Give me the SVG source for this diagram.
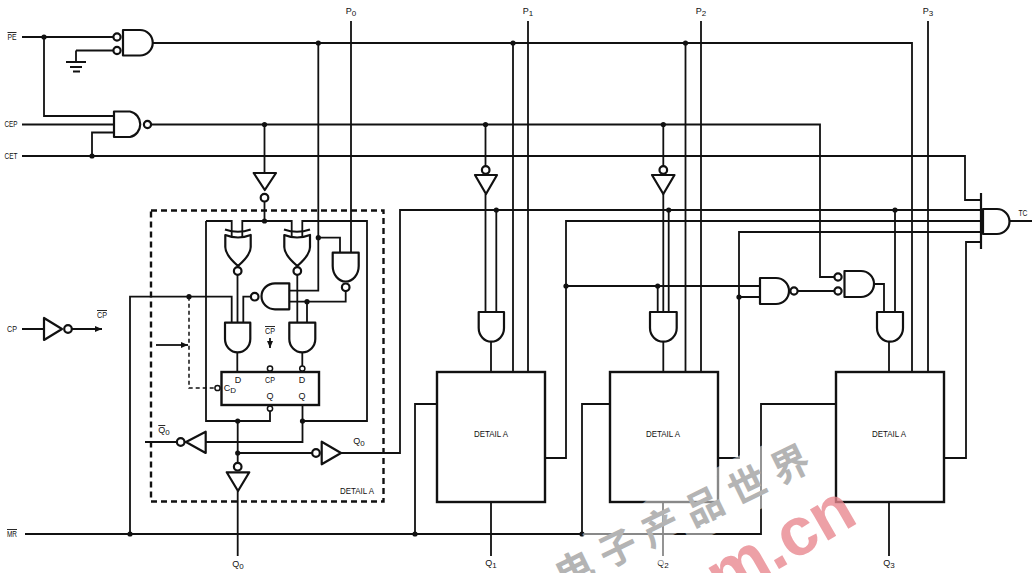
<svg xmlns="http://www.w3.org/2000/svg" width="1032" height="573" viewBox="0 0 1032 573">
<style>
text{font-family:"Liberation Sans",Arial,sans-serif;font-size:9px;fill:#111;text-anchor:middle}
.sub{font-size:8px}
.ov{text-decoration:overline}
.w{fill:none;stroke:#111;stroke-width:1.8}
.d{fill:none;stroke:#111;stroke-width:1.5;stroke-dasharray:4 3}
.g{fill:#fff;stroke:#111;stroke-width:2.2;stroke-linejoin:round}
.n{fill:none;stroke:#111;stroke-width:2.2}
.b{fill:#fff;stroke:#111;stroke-width:2.2}
.s{stroke-width:1.5}
.j{fill:#111;stroke:none}
.box{fill:#fff;stroke:#111;stroke-width:2.4}
.wm{font-family:"Noto Sans CJK SC","Liberation Sans",sans-serif;font-size:38px;font-weight:700;fill:#b4b4b4;letter-spacing:10px}
.wmh{font-family:"Noto Sans CJK SC","Liberation Sans",sans-serif;font-size:38px;font-weight:700;fill:#fff;stroke:#fff;stroke-width:24;opacity:.5;letter-spacing:10px}
.wr{font-family:"Liberation Sans",sans-serif;font-size:68px;font-weight:700;fill:#e8868e;opacity:.78;text-anchor:end}
</style>
<defs>
<marker id="ah" markerWidth="8" markerHeight="8" refX="7" refY="3" orient="auto" markerUnits="userSpaceOnUse"><path d="M0,0L7,3L0,6Z" fill="#111"/></marker>
</defs>
<g id="connectors">
<path class="w" d="M22,37H113M44,37V116H114M76,50.5H113M76,50.5V62"/>
<path class="w" d="M22,124.5H114M151,124.5H820V277H834M22,156H965V200H981M92,156V132.5H114"/>
<path class="w" d="M152,43H912V372M318.3,43V290.7H289.3M318.3,237.7H340V253M513,43V372M685.5,43V372"/>
<path class="w" d="M351,21V253M528,21V372M701,21V372M928,21V372"/>
<path class="w" d="M264.5,124.5V173M264.5,201V221M206,221H231.7V237M242.3,237V221H291.7V237M302.3,237V221H367V421H302.5M206,221V421H270V411M302.5,405V442H206"/>
<path class="w" d="M237.5,275V323M297.3,275V323M345.7,291V301.7H289.3M307,301.7V323M251,296.7H243.3V323M130,534V296.7H231.7V323"/>
<path class="w" d="M237.3,352V372M302.3,352V366"/>
<path class="w" d="M270,338V348" marker-end="url(#ah)"/>
<path class="d" d="M189,296.7V388H214"/>
<path class="w" d="M156,345H188" marker-end="url(#ah)"/>
<path class="w" d="M22,329H44M72,329H102" marker-end="url(#ah)"/>
<path class="w" d="M186,442H145M237.7,421V462M237.7,453H312M341,453H400V210H981M237.7,491V556"/>
<path class="w" d="M485.5,124.5V166M485.5,194V312M496.3,210V312M491,342V372M491,502V556"/>
<path class="w" d="M663.3,124.5V166M663.3,194V312M668.7,210V312M657.7,286V312M663.3,342V372M663,502V556"/>
<path class="w" d="M545,458H566V221H981M566,286H760M718,458H739V232H981M739,297H760"/>
<path class="w" d="M794,291H834M874,284H884V312M895,210V312M889,342V372M889,502V556M944,458H966V242H981"/>
<path class="w" d="M25,534H761V404H836M415,534V404H437M582,534V404H610M1010,221H1032"/>
<g class="j">
<circle cx="44" cy="37" r="2.6"/><circle cx="92" cy="156" r="2.6"/><circle cx="318.3" cy="43" r="2.6"/><circle cx="513" cy="43" r="2.6"/><circle cx="685.5" cy="43" r="2.6"/>
<circle cx="264.5" cy="124.5" r="2.6"/><circle cx="485.5" cy="124.5" r="2.6"/><circle cx="663.3" cy="124.5" r="2.6"/>
<circle cx="264.5" cy="221" r="2.6"/><circle cx="318.3" cy="237.7" r="2.6"/><circle cx="307" cy="301.7" r="2.6"/><circle cx="189" cy="296.7" r="2.6"/>
<circle cx="237.7" cy="421" r="2.6"/><circle cx="302.5" cy="421" r="2.6"/><circle cx="237.7" cy="453" r="2.6"/>
<circle cx="130" cy="534" r="2.6"/><circle cx="415" cy="534" r="2.6"/><circle cx="582" cy="534" r="2.6"/>
<circle cx="496.3" cy="210" r="2.6"/><circle cx="668.7" cy="210" r="2.6"/><circle cx="895" cy="210" r="2.6"/>
<circle cx="566" cy="286" r="2.6"/><circle cx="657.7" cy="286" r="2.6"/><circle cx="739" cy="297" r="2.6"/>
</g>
</g>
<g id="ground"><path class="n" d="M66,62H86M70,67H82M73,71.5H80"/></g>
<g id="gate-pe"><path class="g" d="M123,30H140A12.75,12.75 0 0 1 140,55.5H123Z"/><circle class="b" cx="117" cy="37" r="3.6"/><circle class="b" cx="117" cy="50.5" r="3.6"/></g>
<g id="gate-cep"><path class="g" d="M114,111.5H130A12.75,13 0 0 1 130,137H114Z"/><circle class="b" cx="147.5" cy="124.5" r="3.6"/></g>
<g id="inv-main"><path class="g" d="M253.7,173H276L264.8,190Z"/><circle class="b" cx="264.5" cy="197.7" r="3.8"/></g>
<g id="inv-cp"><path class="g" d="M44,318V340L62,329Z"/><circle class="b" cx="68" cy="329" r="3.8"/></g>
<g id="detail-a-frame"><rect x="151" y="210.5" width="232.5" height="291" fill="none" stroke="#111" stroke-width="2.4" stroke-dasharray="6 4"/></g>
<g id="xnor-1"><path class="n" d="M225,229.5Q238,234 250.7,229.5"/><path class="g" d="M225.3,235Q238,240 250.7,235V247Q250.7,255 238,266Q225.3,255 225.3,247Z"/><circle class="b" cx="237.7" cy="271" r="3.8"/></g>
<g id="xnor-2"><path class="n" d="M284,229.5Q297,234 310,229.5"/><path class="g" d="M284.3,235Q297,240 310,235V247Q310,255 297.3,266Q284.3,255 284.3,247Z"/><circle class="b" cx="297.3" cy="271" r="3.8"/></g>
<g id="nand-p0"><path class="g" d="M332.7,252.7H358.7V266A13,15.5 0 0 1 332.7,266Z"/><circle class="b" cx="345.7" cy="287.3" r="3.8"/></g>
<g id="nand-left"><path class="g" d="M289.3,283.3H275A13.5,13 0 0 0 275,309.3H289.3Z"/><circle class="b" cx="254.7" cy="296.7" r="3.8"/></g>
<g id="and-a"><path class="g" d="M225,322.7H250.3V339A12.65,13.3 0 0 1 225,339Z"/></g>
<g id="and-b"><path class="g" d="M289.3,322.7H315.3V339A13,13.3 0 0 1 289.3,339Z"/></g>
<g id="flipflop">
<rect class="box" x="221.5" y="372" width="97.5" height="33"/>
<circle class="b s" cx="217.5" cy="388" r="2.6"/><circle class="b s" cx="270" cy="368.5" r="2.6"/><circle class="b s" cx="302.3" cy="368.5" r="2.6"/><circle class="b s" cx="270" cy="408.5" r="2.6"/>
<text x="238" y="383">D</text><text x="270" y="383" textLength="10" lengthAdjust="spacingAndGlyphs">CP</text><text x="302" y="383">D</text><text x="270" y="399">Q</text><text x="302" y="399">Q</text>
<text x="230" y="391">C<tspan class="sub" dy="2">D</tspan></text>
</g>
<g id="inv-q0bar"><path class="g" d="M205.7,431.7V453L186,442Z"/><circle class="b" cx="180.7" cy="442" r="3.8"/></g>
<g id="inv-q0-out"><path class="g" d="M321.7,441.7V464.3L341,453Z"/><circle class="b" cx="316" cy="453" r="3.8"/></g>
<g id="inv-q0-down"><path class="g" d="M226.7,472.3H249.3L238,491Z"/><circle class="b" cx="237.7" cy="466.7" r="3.8"/></g>
<g id="inv-1"><path class="g" d="M475,175H497L486,194Z"/><circle class="b" cx="485.7" cy="170" r="3.8"/></g>
<g id="inv-2"><path class="g" d="M652,175H674.5L663.3,194Z"/><circle class="b" cx="663.3" cy="170" r="3.8"/></g>
<g id="and-1"><path class="g" d="M478.7,312H504V328A12.65,13.7 0 0 1 478.7,328Z"/></g>
<g id="and-2"><path class="g" d="M650,312H676.7V328A13.35,13.7 0 0 1 650,328Z"/></g>
<g id="and-3"><path class="g" d="M877,312H903V328A13,13.7 0 0 1 877,328Z"/></g>
<g id="nand-3"><path class="g" d="M760,278H776A13,13 0 0 1 776,304H760Z"/><circle class="b" cx="794" cy="291" r="3.6"/></g>
<g id="and-gate-3"><path class="g" d="M844.5,271H861A13,13 0 0 1 861,297H844.5Z"/><circle class="b" cx="838" cy="277" r="3.6"/><circle class="b" cx="838" cy="291" r="3.6"/></g>
<g id="gate-tc"><path class="g" d="M983,209H997A12.5,12.5 0 0 1 997,234H983Z"/><path class="n" d="M981,193V249"/></g>
<g id="block-1"><rect class="box" x="437" y="372" width="108" height="130"/><text x="491" y="437" textLength="34" lengthAdjust="spacingAndGlyphs">DETAIL A</text></g>
<g id="block-2"><rect class="box" x="610" y="372" width="108" height="130"/><text x="663" y="437" textLength="34" lengthAdjust="spacingAndGlyphs">DETAIL A</text></g>
<g id="block-3"><rect class="box" x="836" y="372" width="108" height="130"/><text x="889" y="437" textLength="34" lengthAdjust="spacingAndGlyphs">DETAIL A</text></g>
<g id="labels">
<text x="12" y="40" class="ov" textLength="9" lengthAdjust="spacingAndGlyphs">PE</text><text x="11" y="127" textLength="13" lengthAdjust="spacingAndGlyphs">CEP</text><text x="11" y="159" textLength="13" lengthAdjust="spacingAndGlyphs">CET</text><text x="12" y="332" textLength="10" lengthAdjust="spacingAndGlyphs">CP</text><text x="12" y="537" class="ov" textLength="10" lengthAdjust="spacingAndGlyphs">MR</text>
<text x="102" y="318" class="ov" textLength="10" lengthAdjust="spacingAndGlyphs">CP</text><text x="270" y="334" class="ov" textLength="10" lengthAdjust="spacingAndGlyphs">CP</text>
<text x="351" y="14">P<tspan class="sub" dy="2">0</tspan></text><text x="528" y="14">P<tspan class="sub" dy="2">1</tspan></text><text x="701" y="14">P<tspan class="sub" dy="2">2</tspan></text><text x="928" y="14">P<tspan class="sub" dy="2">3</tspan></text>
<text x="1023" y="216" textLength="9" lengthAdjust="spacingAndGlyphs">TC</text>
<text x="164" y="433"><tspan class="ov">Q</tspan><tspan class="sub" dy="2">0</tspan></text>
<text x="359" y="444">Q<tspan class="sub" dy="2">0</tspan></text>
<text x="357" y="494" textLength="34" lengthAdjust="spacingAndGlyphs">DETAIL A</text>
<text x="238" y="567">Q<tspan class="sub" dy="2">0</tspan></text><text x="491" y="566">Q<tspan class="sub" dy="2">1</tspan></text><text x="663" y="566">Q<tspan class="sub" dy="2">2</tspan></text><text x="889" y="566">Q<tspan class="sub" dy="2">3</tspan></text>
</g>
<g id="watermark">
<text class="wmh" transform="translate(693,527) rotate(-26)">电子产品世界</text>
<text class="wm" transform="translate(693,527) rotate(-26)">电子产品世界</text>
<text class="wr" transform="translate(860,522) rotate(-30)">m.cn</text>
</g>
</svg>
